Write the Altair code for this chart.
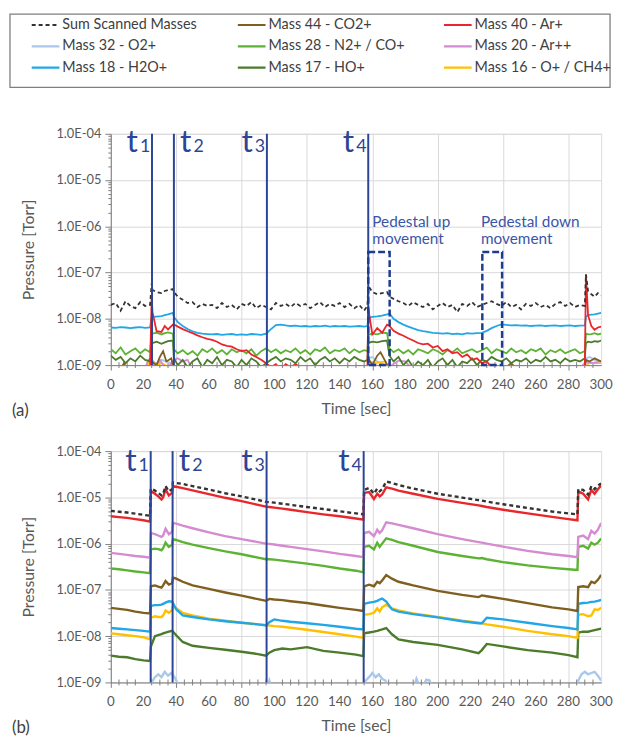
import altair as alt
import pandas as pd

FONT = "Lato"
TBLUE = "#2c4596"
ABLUE = "#3a55a8"

SERIES = ["Sum Scanned Masses", "Mass 44 - CO2+", "Mass 40 - Ar+",
          "Mass 32 - O2+", "Mass 28 - N2+ / CO+", "Mass 20 - Ar++",
          "Mass 18 - H2O+", "Mass 17 - HO+", "Mass 16 - O+ / CH4+"]
COLORS = ["#333333", "#7f5f1f", "#e8262b", "#a9c8ec", "#5cb233",
          "#d48bd0", "#21a6e6", "#4b7b2b", "#ffc000"]
DASHES = [[4, 3]] + [[1, 0]] * 8

# ---------------- panel (a): values in units of 1e-9 Torr ----------------
TA = [0, 3, 6, 9, 12, 15, 18, 21, 24, 25,
      25.5, 28, 31, 33, 35, 38, 38.6, 41, 44, 47,
      50, 53, 56, 59, 62, 65, 68, 71, 74, 77,
      80, 83, 86, 89, 92, 95, 98, 101, 104, 107,
      110, 113, 116, 119, 122, 125, 128, 131, 134, 137,
      140, 143, 146, 149, 152, 155, 157, 157.5, 160, 163,
      166, 169, 170.5, 173, 176, 179, 182, 185, 188, 191,
      194, 197, 200, 203, 206, 209, 212, 215, 218, 221,
      224, 227, 230, 233, 236, 239, 242, 245, 248, 251,
      254, 257, 260, 263, 266, 269, 272, 275, 278, 281,
      284, 287, 290, 290.7, 292, 294, 296, 298, 300]

SUM_A = [20, 22, 15, 24, 19, 17, 23, 19, 20, 58,
         42, 38, 36, 40, 42, 44, 38, 30, 26, 22,
         23, 18, 21, 19, 20, 17, 22, 18, 20, 16,
         21, 19, 23, 17, 20, 18, 16, 22, 19, 21,
         18, 22, 19, 21, 17, 20, 23, 18, 21, 19,
         22, 18, 21, 17, 20, 15, 19, 52, 38, 34,
         36, 38, 30, 27, 24, 22, 19, 23, 20, 18,
         21, 16, 19, 22, 18, 20, 14, 21, 19, 23,
         18, 20, 22, 24, 21, 19, 23, 18, 20, 16,
         21, 19, 22, 18, 20, 17, 21, 23, 19, 22,
         18, 20, 19, 92, 40, 34, 30, 36, 32]

H2O_A = [6.5, 6.4, 6.6, 6.5, 6.3, 6.5, 6.6, 6.4, 6.5, 11,
         11, 11.2, 11.5, 12, 12.5, 13.5, 11, 8.5, 7, 6,
         5.4, 5, 4.8, 4.7, 4.6, 4.7, 4.5, 4.6, 4.7, 4.5,
         4.6, 4.5, 4.7, 4.6, 4.5, 4.8, 6.0, 7.3, 7.5, 7.2,
         7.0, 7.1, 6.9, 7.0, 6.8, 7.0, 6.9, 7.1, 6.8, 7.0,
         6.9, 7.0, 6.8, 6.9, 7.0, 6.8, 7.0, 10.5, 11, 11.3,
         11.8, 12.5, 13, 10, 8.5, 7.5, 6.8, 6.2, 5.7, 5.4,
         5.2, 5.0, 4.9, 4.8, 4.9, 4.7, 4.8, 4.6, 4.9, 4.8,
         4.9, 5.0, 5.5, 6.3, 7.0, 7.6, 7.4, 7.2, 7.3, 7.1,
         7.2, 7.0, 7.1, 7.2, 7.0, 7.1, 7.2, 7.0, 7.1, 7.2,
         7.0, 7.1, 7.2, 11, 12, 12.3, 12.5, 13, 13.5]

AR_A = [0.8, 0.7, 0.8, 0.7, 0.8, 0.7, 0.8, 0.7, 0.8, 30,
        14, 5.4, 5.2, 7.0, 5.9, 7.5, 7.6, 6.8, 6.0, 5.4,
        4.9, 4.4, 4.0, 3.7, 3.5, 3.2, 2.8, 2.6, 2.5, 2.2,
        2.0, 2.1, 1.7, 1.5, 1.3, 1.1, 0.9, 1.05, 0.8, 1.05,
        0.9, 1.05, 0.9, 0.8, 0.7, 0.8, 0.7, 0.8, 0.7, 0.8,
        0.7, 0.8, 0.7, 0.8, 0.7, 0.8, 0.8, 17, 4.6, 6.3,
        5.0, 7.5, 7.0, 5.5, 4.8, 4.3, 3.8, 3.4, 3.0, 2.8,
        2.9, 2.4, 2.6, 2.0, 2.2, 1.8, 1.9, 1.5, 1.7, 1.3,
        1.4, 1.1, 1.2, 0.9, 0.8, 0.7, 0.8, 0.7, 0.8, 0.7,
        0.8, 0.7, 0.8, 0.7, 0.8, 0.7, 0.8, 0.7, 0.8, 0.7,
        0.8, 0.7, 0.8, 90, 12, 7.0, 5.8, 6.5, 6.8]

N2_A = [2.2, 1.8, 2.4, 1.7, 2.0, 2.3, 1.8, 2.2, 1.9, 5.0,
        4.8, 5.0, 4.6, 4.9, 5.1, 4.8, 2.2, 1.8, 2.1, 1.7,
        2.0, 1.6, 2.2, 1.9, 2.3, 1.8, 2.1, 1.7, 2.2, 1.9,
        2.1, 1.8, 2.2, 1.6, 2.0, 2.3, 1.9, 2.2, 1.8, 2.1,
        1.9, 2.3, 1.8, 2.1, 1.7, 2.2, 2.0, 2.4, 1.8, 2.1,
        2.0, 2.3, 1.8, 2.2, 1.9, 2.1, 2.0, 4.5, 4.8, 4.6,
        5.0, 4.9, 2.3, 1.9, 2.2, 1.8, 2.1, 1.7, 2.2, 2.0,
        1.8, 2.2, 2.0, 1.7, 2.1, 1.9, 2.3, 1.8, 2.0, 2.2,
        1.9, 2.1, 2.4, 1.8, 2.2, 2.0, 1.8, 2.3, 1.9, 2.1,
        1.8, 2.2, 2.0, 2.3, 1.7, 2.1, 1.9, 2.2, 1.8, 2.0,
        2.2, 1.8, 2.0, 4.8, 4.6, 4.7, 4.9, 4.6, 4.8]

HO_A = [1.6, 1.3, 1.5, 1.1, 1.4, 1.2, 1.6, 1.3, 1.2, 3.0,
        3.0, 3.2, 2.9, 3.1, 3.3, 3.4, 1.4, 1.0, 1.3, 0.9,
        1.2, 1.4, 0.9, 1.3, 1.1, 1.5, 1.0, 1.3, 1.2, 0.9,
        1.3, 1.0, 1.4, 1.2, 0.9, 1.1, 1.3, 1.5, 1.2, 1.4,
        1.3, 1.1, 1.5, 1.2, 1.4, 1.0, 1.3, 1.5, 1.2, 1.4,
        1.1, 1.4, 1.2, 1.5, 1.3, 1.2, 1.3, 3.0, 3.2, 3.1,
        3.3, 3.4, 1.6, 1.2, 1.5, 1.0, 1.3, 0.9, 1.2, 1.0,
        1.3, 0.9, 1.2, 1.4, 1.0, 1.3, 0.9, 1.2, 1.1, 1.4,
        1.0, 1.3, 1.2, 1.5, 1.3, 1.2, 1.4, 1.1, 1.3, 1.2,
        1.4, 1.1, 1.3, 1.2, 1.5, 1.2, 1.3, 1.1, 1.4, 1.2,
        1.3, 1.2, 1.4, 3.0, 3.2, 3.1, 3.3, 3.2, 3.4]

CO2_A_T = [0, 6, 8, 10, 20, 24, 25, 28, 30, 32, 34, 37, 38.6, 45, 60,
           100, 150, 157, 157.5, 160, 163, 165, 168, 170.5, 175,
           200, 240, 245, 250, 285, 290, 290.7, 293, 296, 300]
CO2_A = [0.7, 0.8, 1.1, 0.8, 0.7, 0.8, 1.2, 1.0, 1.5, 2.0, 1.2, 1.4, 0.8, 0.7, 0.7,
         0.7, 0.7, 0.7, 1.4, 1.0, 1.6, 1.9, 1.2, 0.8, 0.7,
         0.7, 0.8, 1.1, 0.7, 0.7, 0.8, 1.3, 1.2, 1.4, 1.2]

ARR_A_T = [0, 20, 23, 25, 27, 30, 33, 36, 38.6, 41, 44, 47, 50, 100, 157,
           160, 165, 172, 176, 180, 185, 285, 290.7, 294, 300]
ARR_A = [0.6, 0.7, 1.3, 1.4, 0.9, 1.3, 0.9, 1.0, 1.3, 1.4, 1.2, 1.3, 0.8, 0.6, 0.7,
         1.1, 0.9, 1.0, 1.25, 1.2, 0.8, 0.7, 1.2, 1.1, 1.2]

CH4_A_T = [0, 20, 23, 25, 28, 31, 38.6, 45, 157, 158, 162, 168, 172, 290, 292, 300]
CH4_A = [0.5, 0.6, 1.1, 1.3, 1.0, 1.1, 0.8, 0.5, 0.6, 1.2, 1.1, 1.2, 0.6, 0.6, 1.1, 1.1]

O2_A_T = [0, 24, 25, 28, 31, 34, 37, 39, 150, 157, 158, 160, 163, 166, 170,
          289, 290.7, 293, 296, 300]
O2_A = [0.5, 0.6, 1.2, 1.1, 1.3, 1.2, 1.1, 0.7, 0.5, 0.6, 1.4, 1.5, 1.2, 1.1, 0.7,
        0.6, 1.4, 1.5, 1.3, 1.2]

# ---------------- panel (b): values in units of 1e-9 Torr ----------------
TB = [0, 5, 10, 15, 20, 24, 24.5, 27, 29, 31,
      32, 33.5, 35.5, 37.5, 38, 40, 44, 50, 60, 70,
      80, 90, 95, 97, 100, 105, 110, 120, 130, 140,
      150, 154.5, 155, 158, 161, 163, 164.5, 166, 168.5, 172,
      176, 185, 200, 215, 225, 227, 230, 240, 255, 270,
      280, 285.5, 286, 289, 292, 294, 296, 298, 300]

AR_B = [3900, 3750, 3600, 3400, 3200, 3000, 13500, 12000, 10500, 9000,
        10000, 15000, 11000, 12500, 17500, 17000, 15800, 14200, 11800, 9800,
        8300, 6900, 6300, 6200, 6000, 5700, 5400, 4800, 4300, 3900,
        3500, 3300, 12500, 13000, 9200, 12000, 10500, 11500, 16500, 15500,
        14000, 12000, 9300, 7600, 6700, 6500, 6200, 5400, 4500, 3800,
        3400, 3200, 13500, 12000, 9000, 14500, 12000, 15000, 18000]

SUM_B = [5100, 4900, 4700, 4450, 4200, 4000, 15500, 14000, 12500, 11000,
         12000, 17500, 13500, 15000, 21000, 20500, 19500, 17500, 14800, 12300,
         10500, 8800, 8000, 7900, 7700, 7300, 6900, 6200, 5600, 5000,
         4500, 4300, 14500, 16000, 12000, 15500, 13500, 15000, 22000, 20500,
         18500, 15500, 12000, 9900, 8700, 8500, 8100, 7100, 5900, 4950,
         4500, 4300, 15000, 14500, 11500, 17500, 15000, 18000, 20000]

ARR_B = [630, 600, 570, 540, 520, 500, 1700, 1600, 1500, 1400,
         1500, 2100, 1600, 1800, 2800, 2700, 2450, 2150, 1750, 1450,
         1250, 1080, 1000, 990, 960, 900, 850, 760, 680, 600,
         540, 510, 1700, 1800, 1450, 2000, 1700, 1950, 2900, 2750,
         2550, 2150, 1600, 1250, 1080, 1050, 1000, 860, 700, 590,
         540, 510, 1400, 1500, 1250, 1900, 1650, 2000, 2800]

N2_B = [290, 280, 265, 250, 240, 230, 750, 780, 760, 720,
        800, 1050, 850, 950, 1250, 1200, 1080, 950, 800, 680,
        590, 500, 460, 460, 450, 430, 410, 370, 330, 290,
        260, 240, 850, 900, 750, 1050, 850, 1000, 1300, 1200,
        1080, 900, 660, 540, 480, 490, 460, 400, 340, 300,
        280, 270, 850, 900, 780, 1050, 950, 1050, 1300]

CO2_B = [41, 39, 37, 34, 32, 31, 120, 125, 118, 112,
         125, 155, 130, 140, 185, 175, 150, 125, 105, 88,
         75, 63, 58, 64, 62, 60, 57, 52, 46, 41,
         37, 35, 120, 130, 120, 150, 140, 160, 210, 175,
         150, 125, 95, 78, 70, 76, 73, 64, 52, 42,
         38, 35, 115, 120, 115, 150, 140, 165, 210]

H2O_B = [15, 14.5, 14, 13.5, 13, 12.5, 45, 47, 47, 48,
         50, 53, 57, 56, 52, 38, 28, 26, 23, 21,
         19.5, 18, 17, 20, 23, 21.5, 20.5, 19, 17.5, 16,
         14.5, 14, 50, 53, 55, 58, 62, 65, 56, 38,
         34, 30, 25.5, 21, 19, 19, 25, 23, 19.5, 16.5,
         15, 14, 50, 52, 53, 55, 56, 58, 61]

CH4_B = [11.5, 11, 10.5, 10, 9.5, 8.5, 25, 27, 26, 26,
         28, 36, 32, 37, 45, 40, 32, 28, 24, 21.5,
         19.5, 18, 17.5, 17, 16.5, 16, 15.2, 13.8, 12.3, 11,
         9.8, 9.2, 29, 30, 32, 40, 34, 42, 48, 40,
         36, 31, 26, 21.5, 19.5, 19, 18, 16, 13, 11,
         10, 9.2, 29, 30, 27, 28, 38, 37, 41]

HO_B = [3.8, 3.6, 3.5, 3.2, 3.0, 2.9, 6.0, 10, 10.5, 11,
        11.5, 12, 12.5, 13, 12.5, 10.5, 7.5, 6.2, 5.6, 5.1,
        4.6, 4.1, 3.8, 4.4, 5.0, 5.4, 5.2, 5.8, 4.8, 4.4,
        4.0, 3.7, 11.5, 12, 12.5, 13, 13.5, 14, 15, 11,
        8.5, 7.5, 6.5, 5.2, 4.3, 5.0, 6.8, 6.0, 5.0, 4.4,
        3.9, 3.5, 12, 12.5, 12.5, 13, 13.5, 14, 14.5]

O2_B_T = [0, 24, 25, 27, 29, 31, 33, 35, 37, 39, 42, 95, 97, 99, 154,
          156, 158, 160, 162, 164, 166, 168, 170, 185, 187, 189, 190, 193, 195, 197,
          285, 286, 288, 290, 292, 294, 296, 298, 300]
O2_B = [0.5, 0.5, 1.0, 1.3, 1.5, 1.3, 1.7, 1.4, 1.6, 1.3, 0.8, 0.6, 1.1, 0.7, 0.5,
        1.1, 1.3, 1.6, 1.3, 1.5, 1.2, 1.1, 0.8, 0.7, 1.2, 0.8, 0.7, 1.15, 1.1, 0.7,
        0.5, 1.1, 1.5, 1.7, 1.5, 1.6, 1.7, 1.4, 1.1]

# event markers and annotations
T_NUM = ["1", "2", "3", "4"]
T_SIDE = ["L", "R", "L", "L"]
T_A = [25.2, 38.6, 95.5, 157.5]
T_B = [24.4, 37.8, 95.3, 154.7]
BOX_T0 = [157.5, 227.3]
BOX_T1 = [170.6, 239.4]
BOX_TOP = [2.8e-7, 2.8e-7]
ANN_TEXT = ["Pedestal up", "movement", "Pedestal down", "movement"]
ANN_T = [160, 160, 226.5, 226.5]
ANN_P = [1.25e-6, 5.2e-7, 1.25e-6, 5.2e-7]

# axis ticks
XMAJOR = list(range(0, 301, 20))
XMINOR = [v for v in range(0, 301, 5) if v % 20 != 0]
YTICKS = [m * 10.0 ** e for e in range(-9, -4) for m in range(1, 10)] + [1e-4]


def long_df(items):
    frames = []
    for name, ts, vs in items:
        frames.append(pd.DataFrame({"t": ts, "p": [v * 1e-9 for v in vs], "series": name}))
    return pd.concat(frames, ignore_index=True)


df_a_mass = long_df([
    ("Mass 32 - O2+", O2_A_T, O2_A), ("Mass 16 - O+ / CH4+", CH4_A_T, CH4_A),
    ("Mass 20 - Ar++", ARR_A_T, ARR_A), ("Mass 44 - CO2+", CO2_A_T, CO2_A),
    ("Mass 17 - HO+", TA, HO_A), ("Mass 28 - N2+ / CO+", TA, N2_A),
    ("Mass 18 - H2O+", TA, H2O_A), ("Mass 40 - Ar+", TA, AR_A)])
df_a_sum = long_df([("Sum Scanned Masses", TA, SUM_A)])
df_b_mass = long_df([
    ("Mass 32 - O2+", O2_B_T, O2_B), ("Mass 17 - HO+", TB, HO_B),
    ("Mass 16 - O+ / CH4+", TB, CH4_B), ("Mass 18 - H2O+", TB, H2O_B),
    ("Mass 44 - CO2+", TB, CO2_B), ("Mass 28 - N2+ / CO+", TB, N2_B),
    ("Mass 20 - Ar++", TB, ARR_B), ("Mass 40 - Ar+", TB, AR_B)])
df_b_sum = long_df([("Sum Scanned Masses", TB, SUM_B)])

W, H = 496, 234
CSCALE = alt.Scale(domain=SERIES, range=COLORS)
DSCALE = alt.Scale(domain=SERIES, range=DASHES)

DEC = "abs(log(datum.value)/LN10 - round(log(datum.value)/LN10)) < 0.01"


def yaxis():
    return alt.Axis(values=YTICKS,
                    labelExpr=f"({DEC}) ? '1.0E-0' + round(-log(datum.value)/LN10) : ''",
                    labelOverlap=False, labelFlush=False, labelFont=FONT, labelFontSize=13,
                    labelColor="#595959", labelPadding=4,
                    gridColor="#d9d9d9",
                    gridOpacity={"condition": {"test": DEC, "value": 1}, "value": 0},
                    tickColor="#7f7f7f",
                    tickSize={"condition": {"test": DEC, "value": 6}, "value": 3},
                    domainColor="#7f7f7f", title="Pressure [Torr]", titleFont=FONT,
                    titleFontSize=16, titleFontWeight="normal", titleColor="#595959",
                    titlePadding=20)


def xaxis():
    return alt.Axis(values=XMAJOR, labels=False,
                    gridColor="#d9d9d9", tickColor="#7f7f7f", tickSize=5,
                    domainColor="#7f7f7f", title="Time [sec]", titleFont=FONT,
                    titleFontSize=16, titleFontWeight="normal", titleColor="#595959",
                    titlePadding=30)


XS = alt.Scale(domain=[0, 300], nice=False, zero=False)
YS = alt.Scale(type="log", domain=[1e-9, 1e-4], nice=False)


def panel(df_mass, df_sum, tl, tag, width_line, base_y, extra=()):
    x = alt.X("t:Q", scale=XS, axis=xaxis())
    y = alt.Y("p:Q", scale=YS, axis=yaxis())
    lines = alt.Chart(df_mass).mark_line(clip=True, strokeWidth=width_line).encode(
        x=x, y=y, color=alt.Color("series:N", scale=CSCALE, legend=None))
    sumline = alt.Chart(df_sum).mark_line(clip=True, strokeWidth=width_line, strokeDash=[4, 3],
                                          color="#333333").encode(x="t:Q", y="p:Q")
    minor = alt.Chart(pd.DataFrame({"t": XMINOR})).mark_rule(color="#7f7f7f", strokeWidth=1).encode(
        x="t:Q", y=alt.value(H - 3), y2=alt.value(H + 3))
    xlab = alt.Chart(pd.DataFrame({"t": XMAJOR})).mark_text(
        fontSize=13.5, font=FONT, color="#595959", baseline="middle", align="center").encode(
        x="t:Q", y=alt.value(H + 20), text=alt.Text("t:Q", format="d"))
    df_t = pd.DataFrame({"t": tl, "n": T_NUM, "side": T_SIDE})
    rules = alt.Chart(df_t).mark_rule(color=TBLUE, strokeWidth=2).encode(x="t:Q")
    layers = [minor, lines, sumline, rules, xlab]
    for side, dt, dn in (("L", -20, -7), ("R", 12, 25)):
        sub = alt.Chart(df_t).transform_filter(alt.datum.side == side)
        layers.append(sub.mark_text(text="t", fontSize=32, font=FONT, color=TBLUE,
                                    baseline="alphabetic", align="center", dx=dt)
                      .encode(x="t:Q", y=alt.value(base_y)))
        layers.append(sub.mark_text(fontSize=18, font=FONT, color=TBLUE,
                                    baseline="alphabetic", align="center", dx=dn)
                      .encode(x="t:Q", y=alt.value(base_y), text="n:N"))
    layers.extend(extra)
    layers.append(alt.Chart(alt.Data(values=[{}])).mark_text(
        text=tag, align="left", baseline="middle", fontSize=17, font=FONT, color="#404040")
        .encode(x=alt.value(-100), y=alt.value(H + 46)))
    return alt.layer(*layers)


# annotations of panel (a)
df_box = pd.DataFrame({"t": BOX_T0, "t2": BOX_T1, "p": BOX_TOP, "p2": [1e-9, 1e-9]})
boxes = alt.Chart(df_box).mark_rect(filled=False, stroke="#1f3d8f", strokeWidth=2.5,
                                    strokeDash=[7, 3]).encode(x="t:Q", x2="t2:Q", y="p:Q", y2="p2:Q")
df_ann = pd.DataFrame({"t": ANN_T, "p": ANN_P, "txt": ANN_TEXT})
ann = alt.Chart(df_ann).mark_text(align="left", baseline="middle", fontSize=15.5, font=FONT,
                                  color=ABLUE).encode(x="t:Q", y="p:Q", text="txt:N")

inner_a = panel(df_a_mass, df_a_sum, T_A, "(a)", 1.8, 18, extra=(boxes, ann))
inner_b = panel(df_b_mass, df_b_sum, T_B, "(b)", 2.4, 20)

# custom legend (drawn above panel a)
leg = pd.DataFrame({"series": SERIES})
leg["col"] = [i % 3 for i in range(len(SERIES))]
leg["row"] = [i // 3 for i in range(len(SERIES))]
leg["lx0"] = 22 + leg["col"] * 208.5
leg["lx1"] = leg["lx0"] + 28
leg["lt"] = leg["lx0"] + 31
leg["ly"] = 11 + leg["row"] * 21.5
LX = alt.Scale(domain=[0, 607], range=[-102, 505])
LY = alt.Scale(domain=[0, 74], range=[-121, -47])

leg_sym = alt.Chart(leg).mark_rule(strokeWidth=2.2).encode(
    x=alt.X("lx0:Q", scale=LX, axis=None), x2="lx1:Q",
    y=alt.Y("ly:Q", scale=LY, axis=None),
    color=alt.Color("series:N", scale=CSCALE, legend=None),
    strokeDash=alt.StrokeDash("series:N", scale=DSCALE, legend=None))
leg_txt = alt.Chart(leg).mark_text(align="left", baseline="middle", fontSize=14.5, font=FONT,
                                   color="#404040").encode(
    x=alt.X("lt:Q", scale=LX, axis=None), y=alt.Y("ly:Q", scale=LY, axis=None), text="series:N")
leg_box = alt.Chart(alt.Data(values=[{}])).mark_rect(filled=False, stroke="#7f7f7f",
                                                     strokeWidth=1.3).encode(
    x=alt.value(-102), x2=alt.value(505), y=alt.value(-121), y2=alt.value(-47))
legend_layer = alt.layer(leg_box, leg_sym, leg_txt)

panel_a = alt.layer(inner_a, legend_layer).resolve_scale(
    x="independent", y="independent").properties(width=W, height=H)
panel_b = inner_b.properties(width=W, height=H)

chart = alt.vconcat(panel_a, panel_b, spacing=25).properties(
    padding={"left": 0, "top": 0, "right": 0, "bottom": 0}
).configure_view(strokeWidth=0).configure(font=FONT)

chart.save("out.html", embed_options={"renderer": "svg", "actions": False})
